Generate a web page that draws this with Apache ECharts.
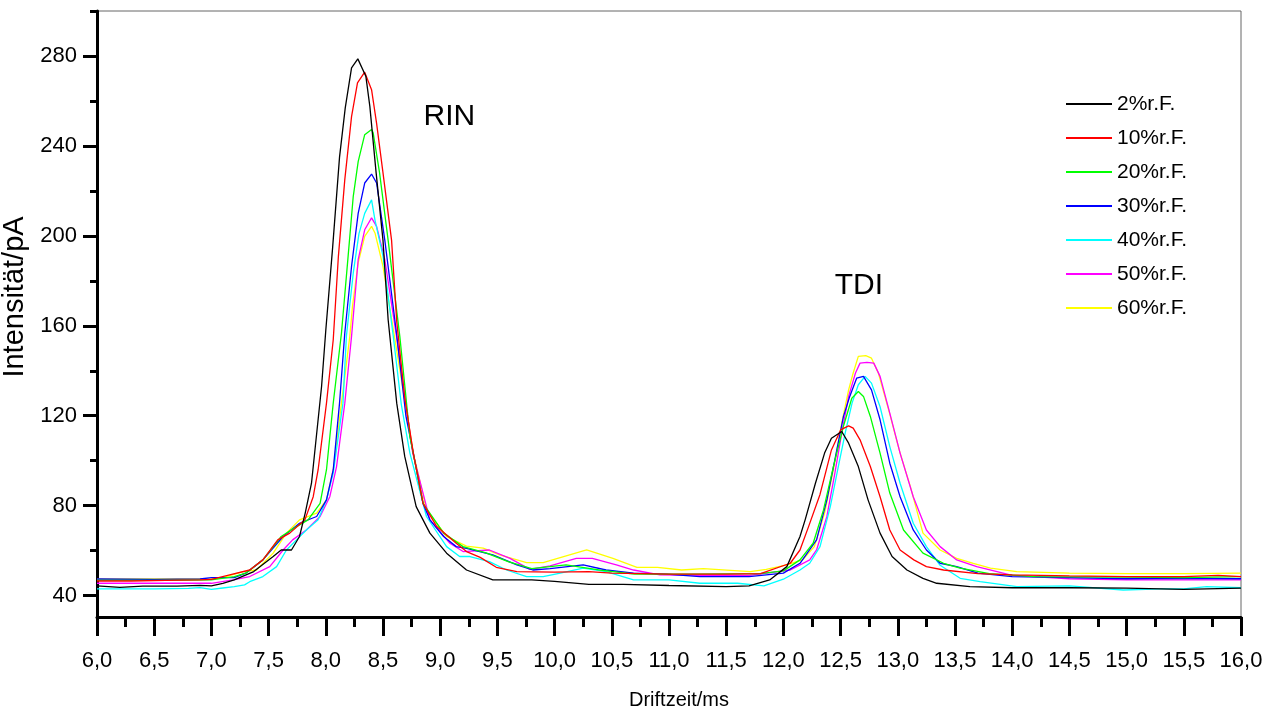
<!DOCTYPE html>
<html lang="de">
<head>
    <meta charset="UTF-8">
    <title>Driftzeit</title>
    <script src="https://cdn.jsdelivr.net/npm/echarts@6/dist/echarts.min.js"></script>
    <style>
        html, body { margin: 0; padding: 0; background: #fff; }
        #main { width: 1273px; height: 715px; }
    </style>
</head>
<body>
<div id="main"></div>
<script type="text/javascript">
    // Messkurven: [Driftzeit ms, Intensitaet pA]
    var rh2 = [[6.0,44.3],[6.2,43.7],[6.4,44.2],[6.7,44.2],[6.9,44.6],[7.0,44.3],[7.1,45.5],[7.2,47],[7.37,50.7],[7.54,57.4],[7.61,60.3],[7.70,60.3],[7.77,66.3],[7.82,76.7],[7.875,90],[7.963,133],[8.0,158],[8.06,195],[8.12,235],[8.17,256.9],[8.225,274.7],[8.28,278.7],[8.35,271],[8.385,257.6],[8.44,228],[8.50,198],[8.545,162.7],[8.62,125.6],[8.69,101.9],[8.79,79.6],[8.91,67.8],[9.056,58.9],[9.23,51.4],[9.46,47],[9.8,47],[10.0,46.3],[10.3,45],[10.6,45],[11.0,44.5],[11.5,44],[11.7,44.3],[11.88,47],[12.03,52.9],[12.145,66.3],[12.19,73.7],[12.28,90],[12.36,103.4],[12.42,110],[12.51,113],[12.57,107.8],[12.655,97.4],[12.74,82.6],[12.845,67.8],[12.95,57.4],[13.08,51.4],[13.22,47.7],[13.34,45.5],[13.63,44],[14.0,43.5],[14.5,43.5],[15.0,43.3],[15.5,42.8],[16.0,43.3]];
    var rh10 = [[6.0,46.5],[6.3,46.5],[6.6,46.8],[6.9,47],[7.0,47.2],[7.16,49.2],[7.335,51.4],[7.45,55.9],[7.58,64.8],[7.685,67.8],[7.817,73.7],[7.89,84],[7.933,96],[8.006,125.6],[8.065,153.8],[8.11,190.9],[8.166,225],[8.225,253],[8.277,268],[8.34,272.8],[8.40,265],[8.444,250],[8.50,228],[8.575,198],[8.62,162],[8.69,128],[8.765,103.4],[8.85,81],[8.97,70.7],[9.14,63.3],[9.23,59.6],[9.35,57],[9.49,52.6],[9.67,50.7],[10.0,50.5],[10.3,50.7],[10.5,50],[11.0,49.6],[11.5,49.6],[11.8,49.8],[12.06,54.4],[12.145,60.3],[12.22,70.7],[12.32,85],[12.42,104.8],[12.50,113.7],[12.57,115.5],[12.61,114.5],[12.67,109.3],[12.76,97.4],[12.845,84],[12.93,69.2],[13.02,60.3],[13.14,55.9],[13.25,52.9],[13.40,51.4],[13.7,49.8],[14.0,49.2],[14.5,48.8],[15.0,48.5],[15.5,48.5],[15.8,49],[16.0,48.5]];
    var rh20 = [[6.0,46.8],[6.5,46.8],[7.0,47],[7.2,48.5],[7.3,50],[7.45,55.9],[7.61,66.3],[7.744,70.7],[7.845,73.7],[7.95,81],[8.006,96],[8.065,125.6],[8.137,156.8],[8.195,190.9],[8.24,217.6],[8.283,233],[8.34,245],[8.40,247.3],[8.414,245.8],[8.47,228],[8.545,198],[8.647,155.3],[8.735,110.8],[8.85,81],[9.03,67.8],[9.20,61.8],[9.4,59],[9.6,55],[9.8,52],[10.1,53.7],[10.4,51.3],[10.7,49.6],[11.2,49.6],[11.8,49.8],[12.0,51],[12.145,55.9],[12.26,63.3],[12.35,78],[12.437,97.4],[12.524,115.2],[12.598,127.8],[12.655,130.8],[12.70,128.6],[12.76,119.7],[12.845,103.4],[12.93,85.6],[13.05,69.2],[13.22,58.9],[13.40,54.4],[13.545,52.2],[13.8,49.8],[14.2,48.5],[15.0,48.2],[15.5,48],[16.0,48.5]];
    var rh30 = [[6.0,47.4],[6.5,47.2],[6.9,47.4],[7.0,48],[7.2,48],[7.3,50],[7.45,55.9],[7.627,66.3],[7.77,72.2],[7.92,75.2],[8.006,82.6],[8.065,96],[8.12,125.6],[8.166,156.8],[8.225,186.4],[8.283,210],[8.34,223.5],[8.40,227.5],[8.444,223.5],[8.516,198],[8.618,156.8],[8.70,120],[8.765,103.4],[8.85,81],[8.91,73.7],[9.03,66.3],[9.14,61.8],[9.23,61],[9.46,58.1],[9.67,53.7],[9.81,51.4],[9.96,52],[10.25,53.7],[10.45,51.4],[10.69,50],[10.98,49.6],[11.27,48.5],[11.7,48.5],[12.0,50],[12.145,54.4],[12.29,64.8],[12.38,82.6],[12.467,104.8],[12.525,119.7],[12.58,128.6],[12.64,136.7],[12.70,137.5],[12.77,131.5],[12.845,118.2],[12.93,98.9],[13.02,84],[13.135,69.2],[13.25,60.3],[13.37,54.4],[13.515,52.9],[13.7,50],[14.0,48.5],[14.5,48],[15.0,47.5],[15.5,47.7],[16.0,47.5]];
    var rh40 = [[6.0,43],[6.5,43],[6.8,43.2],[6.9,43.6],[7.0,42.8],[7.1,43.4],[7.2,44],[7.29,44.8],[7.335,46.2],[7.45,48.5],[7.57,52.9],[7.656,60.3],[7.744,64.8],[7.83,69.2],[7.933,73.7],[8.006,82.6],[8.065,94.5],[8.15,125.6],[8.18,155.3],[8.24,183.5],[8.29,201],[8.34,210],[8.40,216],[8.43,207],[8.50,191],[8.59,155.3],[8.66,125],[8.735,103.4],[8.88,75.2],[9.056,61.8],[9.17,57.4],[9.26,57.4],[9.43,55.1],[9.58,51.4],[9.755,48.5],[9.9,48.5],[10.05,50],[10.25,52.2],[10.45,50.7],[10.69,47],[11.0,47],[11.27,45.5],[11.6,45.5],[11.83,44.3],[12.0,47.3],[12.145,51.4],[12.23,54.4],[12.32,61.8],[12.41,79.6],[12.48,97.4],[12.54,112.3],[12.6,125.6],[12.655,133.8],[12.714,137.5],[12.77,134.5],[12.845,124],[12.93,106.3],[13.02,90],[13.135,72.2],[13.25,61.8],[13.37,53.5],[13.545,47.7],[13.72,46.2],[14.04,44],[14.5,44.3],[14.97,42.5],[15.3,43],[15.5,43],[15.7,44],[16.0,43.5]];
    var rh50 = [[6.0,45.5],[6.5,45.5],[7.0,45.5],[7.19,47],[7.335,48.5],[7.51,52.9],[7.627,60.3],[7.71,64.8],[7.83,69.2],[7.95,75.2],[8.035,84],[8.094,97.4],[8.166,125.6],[8.225,155.3],[8.283,189.4],[8.34,202.7],[8.40,208],[8.444,204.2],[8.516,189.4],[8.618,155.3],[8.76,103.4],[8.91,73.7],[9.085,63.3],[9.20,59.6],[9.43,60.3],[9.61,56.6],[9.785,51.7],[9.96,53.2],[10.19,56.6],[10.33,56.6],[10.54,53.7],[10.69,51.4],[10.92,49.2],[11.3,49],[11.7,49],[12.06,51.4],[12.23,55.9],[12.29,60.3],[12.38,75.2],[12.45,94.5],[12.51,112.3],[12.57,128.6],[12.63,139],[12.67,143.4],[12.73,143.7],[12.79,143.4],[12.845,137.5],[12.93,121.2],[13.02,103.4],[13.135,84],[13.25,69.2],[13.37,61.8],[13.515,55.9],[13.69,52.9],[14.0,49],[14.5,47.5],[15.0,47],[15.5,47],[16.0,47]];
    var rh60 = [[6.0,47.4],[6.5,47.4],[7.0,47.4],[7.1,48],[7.277,50.7],[7.394,51.4],[7.54,58.9],[7.656,67.8],[7.77,73.7],[7.92,76.7],[8.006,82.6],[8.065,96],[8.137,125.6],[8.21,155.3],[8.233,168.6],[8.283,188],[8.34,199.8],[8.40,204.2],[8.43,201.3],[8.50,186.4],[8.60,155.3],[8.765,103.4],[8.88,78.2],[9.056,66.3],[9.23,62],[9.376,61.1],[9.52,58.1],[9.755,54.7],[9.90,54.7],[10.28,60.3],[10.51,56.6],[10.72,52.6],[10.9,52.6],[11.11,51.4],[11.3,52],[11.71,50.7],[11.85,51.7],[12.03,53.7],[12.17,56],[12.27,61.8],[12.36,76.7],[12.437,96],[12.51,116.7],[12.57,131.5],[12.61,139],[12.655,146.4],[12.72,146.7],[12.77,145.6],[12.83,139],[12.92,122.6],[13.02,103.4],[13.11,88.5],[13.22,67.8],[13.37,60.3],[13.515,56.6],[13.66,54.4],[13.81,52.2],[14.04,50.7],[14.5,50],[15.0,49.8],[15.5,49.8],[16.0,50]];

    var seriesNames = ['2%r.F.', '10%r.F.', '20%r.F.', '30%r.F.', '40%r.F.', '50%r.F.', '60%r.F.'];
    var seriesData = [rh2, rh10, rh20, rh30, rh40, rh50, rh60];
    var colors = ['#000000', '#ff0000', '#00ff00', '#0000ff', '#00ffff', '#ff00ff', '#ffff00'];

    // Achsen
    var yLabels = [40, 80, 120, 160, 200, 240, 280];
    var yMinor = [60, 100, 140, 180, 220, 260, 300];
    // Beschriftungen der Peaks
    var peakNames = ['RIN', 'TDI'];
    var peakPos = [[9.08, 253], [12.66, 178]];

    var font = "'Liberation Sans', Arial, sans-serif";

    var myChart = echarts.init(document.getElementById('main'));
    var series = [];
    for (var i = 0; i < seriesData.length; i++) {
        series.push({
            name: seriesNames[i],
            type: 'line',
            data: seriesData[i],
            showSymbol: false,
            symbol: 'none',
            lineStyle: { color: colors[i], width: 1.3 },
            itemStyle: { color: colors[i] },
            z: 10 - i
        });
    }
    series.push({
        type: 'scatter',
        symbolSize: 0,
        silent: true,
        itemStyle: { opacity: 1, color: '#000' },
        data: peakPos.map(function (p, k) { return { value: p, name: peakNames[k] }; }),
        label: {
            show: true,
            position: 'inside',
            formatter: '{b}',
            color: '#000',
            opacity: 1,
            textBorderWidth: 0,
            fontFamily: font,
            fontSize: 30
        }
    });

    var option = {
        animation: false,
        backgroundColor: '#fff',
        grid: {
            left: 97, right: 32, top: 11, bottom: 98,
            outerBoundsMode: 'none',
            containLabel: false,
            show: true, borderColor: '#666', borderWidth: 1
        },
        legend: {
            data: seriesNames,
            orient: 'vertical',
            left: 1066,
            top: 93,
            padding: 0,
            icon: 'rect',
            itemWidth: 46,
            itemHeight: 2,
            itemGap: 12,
            textStyle: { fontFamily: font, fontSize: 21, color: '#000', lineHeight: 22 }
        },
        xAxis: {
            type: 'value',
            min: 6, max: 16, interval: 0.5,
            name: 'Driftzeit/ms',
            nameLocation: 'middle',
            nameGap: 73,
            nameTextStyle: { fontFamily: font, fontSize: 20, color: '#000', padding: [0, 0, 0, 20] },
            axisLine: { lineStyle: { color: '#000', width: 3 } },
            axisTick: { length: 19, lineStyle: { color: '#000', width: 3 } },
            minorTick: { show: true, splitNumber: 2, length: 10, lineStyle: { color: '#000', width: 3 } },
            splitLine: { show: false },
            axisLabel: {
                margin: 33,
                fontFamily: font, fontSize: 22, color: '#000',
                formatter: function (v) { return v.toFixed(1).replace('.', ','); }
            }
        },
        yAxis: [{
            type: 'value',
            min: 30.5, max: 300,
            name: 'Intensität/pA',
            nameLocation: 'middle',
            nameGap: 62,
            nameTextStyle: { fontFamily: font, fontSize: 29, color: '#000', padding: [0, 0, 0, 34] },
            axisLine: { lineStyle: { color: '#000', width: 3 } },
            axisTick: { customValues: yLabels, length: 14, lineStyle: { color: '#000', width: 3 } },
            splitLine: { show: false },
            axisLabel: {
                customValues: yLabels,
                margin: 20,
                fontFamily: font, fontSize: 22, color: '#000'
            }
        }, {
            type: 'value',
            min: 30.5, max: 300,
            position: 'left',
            axisLine: { show: false },
            axisTick: { customValues: yMinor, length: 7, lineStyle: { color: '#000', width: 3 } },
            axisLabel: { show: false },
            splitLine: { show: false }
        }],
        series: series
    };
    myChart.setOption(option);
</script>
</body>
</html>
